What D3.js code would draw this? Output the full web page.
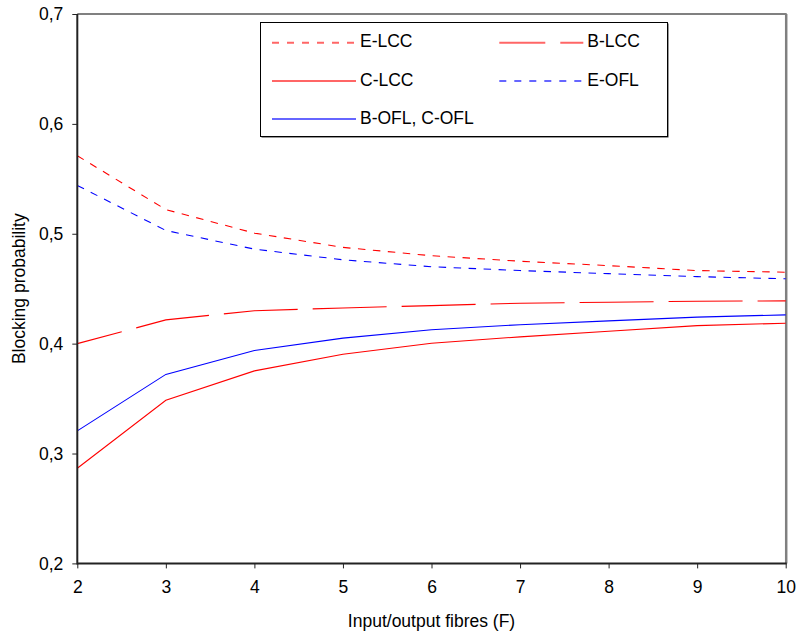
<!DOCTYPE html>
<html>
<head>
<meta charset="utf-8">
<script src="https://cdn.jsdelivr.net/npm/d3@7"></script>
<style>
  html, body { margin: 0; padding: 0; background: #fff; }
  svg { display: block; font-family: "Liberation Sans", Arial, sans-serif; }
</style>
</head>
<body>
<svg id="chart" width="798" height="637"></svg>
<script>
// Number of input/output fibres
const fibres = [2, 3, 4, 5, 6, 7, 8, 9, 10];

// Blocking probability per scheme
const eLCC = [0.571, 0.522, 0.5006, 0.4876, 0.480, 0.475, 0.471, 0.4665, 0.465];
const bLCC = [0.400, 0.4216, 0.430, 0.4325, 0.4346, 0.4368, 0.4377, 0.4386, 0.4389];
const cLCC = [0.2866, 0.3485, 0.3752, 0.3904, 0.4004, 0.4062, 0.4113, 0.4164, 0.4186];
const eOFL = [0.544, 0.503, 0.486, 0.4763, 0.470, 0.4665, 0.4637, 0.461, 0.459];
const bcOFL = [0.3206, 0.372, 0.3937, 0.405, 0.4127, 0.4172, 0.4207, 0.4241, 0.4262];

// Axis ticks
const xTicks = [2, 3, 4, 5, 6, 7, 8, 9, 10];
const yTicks = [0.2, 0.3, 0.4, 0.5, 0.6, 0.7];
const yTickLabels = ["0,2", "0,3", "0,4", "0,5", "0,6", "0,7"];

const series = [
  { name: "E-LCC", values: eLCC, color: "#ff0000", dash: "7.5,7.5", legendDash: "7,8", offset: 0 },
  { name: "B-LCC", values: bLCC, color: "#ff0000", dash: "74,15", legendDash: "74,15", offset: 28 },
  { name: "C-LCC", values: cLCC, color: "#ff0000", dash: null, legendDash: null, offset: 0 },
  { name: "E-OFL", values: eOFL, color: "#0000ff", dash: "7.5,7.5", legendDash: "7,8", offset: 0 },
  { name: "B-OFL, C-OFL", values: bcOFL, color: "#0000ff", dash: null, legendDash: null, offset: 0 }
];

const svg = d3.select("#chart");
const plotLeft = 77.3, plotRight = 785.7, plotTop = 14, plotBottom = 563.4;
const fontSize = "17.5px";

const x = d3.scaleLinear().domain([2, 10]).range([plotLeft, plotRight]);
const y = d3.scaleLinear().domain([0.2, 0.7]).range([plotBottom, plotTop]);

// Plot area frame (grey top and right edges)
svg.append("line").attr("x1", plotLeft).attr("x2", plotRight + 1).attr("y1", plotTop).attr("y2", plotTop)
  .attr("stroke", "#808080").attr("stroke-width", 2);
svg.append("line").attr("x1", plotRight + 0.5).attr("x2", plotRight + 0.5).attr("y1", plotTop).attr("y2", plotBottom)
  .attr("stroke", "#808080").attr("stroke-width", 2.5);

// Series lines
const line = d3.line().x((d, i) => x(fibres[i])).y(d => y(d));
svg.append("g").selectAll("path").data(series).join("path")
  .attr("d", s => line(s.values))
  .attr("fill", "none")
  .attr("stroke", s => s.color)
  .attr("stroke-width", 1.1)
  .attr("stroke-dasharray", s => s.dash)
  .attr("stroke-dashoffset", s => s.offset);

// Axes
const xAxis = d3.axisBottom(x).tickValues(xTicks).tickSize(5).tickPadding(12)
  .tickFormat(d3.format("d"));
const gx = svg.append("g").attr("transform", `translate(0,${plotBottom})`).call(xAxis);

const yAxis = d3.axisLeft(y).tickValues(yTicks).tickSize(5).tickPadding(9)
  .tickFormat((d, i) => yTickLabels[i]);
const gy = svg.append("g").attr("transform", `translate(${plotLeft},0)`).call(yAxis);

[gx, gy].forEach(g => {
  g.select(".domain").attr("stroke", "#222").attr("stroke-width", 2);
  g.selectAll(".tick line").attr("stroke", "#222").attr("stroke-width", 1);
  g.selectAll(".tick text").attr("fill", "#000")
    .style("font-family", '"Liberation Sans", Arial, sans-serif')
    .style("font-size", fontSize);
});
gx.select(".domain").attr("d", `M${plotLeft},0H${plotRight + 1}`);
gy.select(".domain").attr("d", `M0,${plotTop}V${plotBottom + 1}`);

// Axis titles
svg.append("text")
  .attr("x", (plotLeft + plotRight) / 2).attr("y", 622)
  .attr("text-anchor", "middle").attr("dominant-baseline", "middle")
  .style("font-size", fontSize).text("Input/output fibres (F)");
svg.append("text")
  .attr("transform", `translate(20,${(plotTop + plotBottom) / 2}) rotate(-90)`)
  .attr("text-anchor", "middle").attr("dominant-baseline", "middle")
  .style("font-size", fontSize).text("Blocking probability");

// Legend
const legend = svg.append("g");
legend.append("rect").attr("x", 261.5).attr("y", 23.5).attr("width", 407).attr("height", 114)
  .attr("fill", "#333");
legend.append("rect").attr("x", 260.5).attr("y", 22.5).attr("width", 407).attr("height", 114)
  .attr("fill", "#fff").attr("stroke", "#000").attr("stroke-width", 1);

const legendLayout = [
  { col: 0, row: 0 }, { col: 1, row: 0 },
  { col: 0, row: 1 }, { col: 1, row: 1 },
  { col: 0, row: 2 }
];
const colX = [272, 499.3];
const rowY = [42.7, 81, 119];
const items = legend.selectAll("g.item").data(series).join("g").attr("class", "item")
  .attr("transform", (s, i) => `translate(${colX[legendLayout[i].col]},${rowY[legendLayout[i].row]})`);
items.append("line")
  .attr("x1", 0).attr("x2", 84).attr("y1", 0).attr("y2", 0)
  .attr("stroke", s => s.color).attr("stroke-opacity", 0.6).attr("stroke-width", 2)
  .attr("stroke-dasharray", s => s.legendDash)
  .attr("stroke-dashoffset", s => s.offset);
items.append("text")
  .attr("x", 88).attr("y", 0).attr("dominant-baseline", "middle")
  .style("font-size", fontSize).text(s => s.name);
</script>
</body>
</html>
